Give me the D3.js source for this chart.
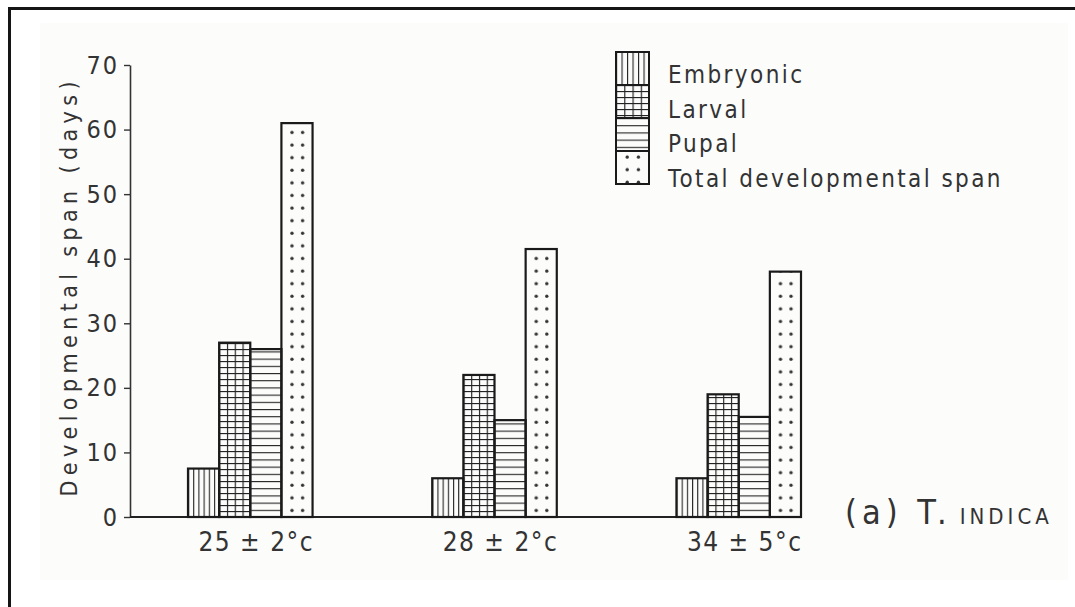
<!DOCTYPE html>
<html>
<head>
<meta charset="utf-8">
<script src="https://cdn.jsdelivr.net/npm/d3@7"></script>
<style>
  body { margin: 0; background: #fff; }
  text { font-family: "DejaVu Sans", sans-serif; font-stretch: condensed; fill: #333; }
</style>
</head>
<body>
<div id="chart"></div>
<script>
let width = 1075,
    height = 607;

// data
const temps = ["25 ± 2°c", "28 ± 2°c", "34 ± 5°c"];
const stages = ["Embryonic", "Larval", "Pupal", "Total developmental span"];
const embryonic = [7.5, 6, 6];
const larval = [27, 22, 19];
const pupal = [26, 15, 15.5];
const total = [61, 41.5, 38];
const yTicks = [0, 10, 20, 30, 40, 50, 60, 70];

const series = [embryonic, larval, pupal, total];
const kinds = ["vert", "grid", "horiz", "dots"];

const svg = d3.select("#chart")
  .append("svg")
  .attr("width", width)
  .attr("height", height);

const defs = svg.append("defs");

// scanned page look
svg.append("rect").attr("x", 40).attr("y", 23).attr("width", 1028).attr("height", 557).attr("fill", "#fcfcfb");
svg.append("path").attr("d", "M9.5,607V8.5H1075").attr("fill", "none").attr("stroke", "#151515").attr("stroke-width", 3);

let y = d3.scaleLinear()
  .domain([0, 70])
  .range([517, 65]);

let x0 = d3.scaleBand()
  .domain(temps)
  .range([188, 801])
  .paddingInner(0.49);

let x1 = d3.scaleBand()
  .domain(stages)
  .range([0, x0.bandwidth()]);

const bw = x1.bandwidth();

// one pattern per rect so the hatching starts at each bar's own edge
function makePattern(id, kind, px, py, w) {
  const p = defs.append("pattern")
    .attr("id", id)
    .attr("patternUnits", "userSpaceOnUse")
    .attr("x", px).attr("y", py);
  const ln = "#222";
  if (kind == "vert") {
    const tw = w / 6;
    p.attr("width", tw).attr("height", 10);
    p.append("line").attr("x1", 0.5).attr("x2", 0.5).attr("y1", 0).attr("y2", 10).attr("stroke", ln).attr("stroke-width", 1.2);
  } else if (kind == "grid") {
    const tw = w / 4;
    p.attr("width", tw).attr("height", 6);
    p.append("line").attr("x1", 0.5).attr("x2", 0.5).attr("y1", 0).attr("y2", 6).attr("stroke", ln).attr("stroke-width", 1.3);
    p.append("line").attr("x1", 0).attr("x2", tw).attr("y1", 0.5).attr("y2", 0.5).attr("stroke", ln).attr("stroke-width", 1.3);
  } else if (kind == "horiz") {
    p.attr("width", 10).attr("height", 7.2);
    p.append("line").attr("x1", 0).attr("x2", 10).attr("y1", 0.5).attr("y2", 0.5).attr("stroke", ln).attr("stroke-width", 1.2);
  } else {
    p.attr("width", w).attr("height", 12.6);
    p.append("circle").attr("cx", w * 0.34).attr("cy", 6).attr("r", 1.7).attr("fill", "#333");
    p.append("circle").attr("cx", w * 0.68).attr("cy", 6).attr("r", 1.7).attr("fill", "#333");
  }
}

// axes
const yAxis = svg.append("g")
  .attr("transform", "translate(130,0)")
  .call(d3.axisLeft(y).tickValues(yTicks).tickSize(6).tickSizeOuter(0).tickPadding(5));
yAxis.select(".domain").attr("stroke", "#333").attr("stroke-width", 1.6);
yAxis.selectAll(".tick line").attr("stroke", "#333").attr("stroke-width", 1.4);
yAxis.selectAll(".tick text")
  .style("font-size", "25px")
  .style("letter-spacing", "2px")
  .attr("fill", "#444");

svg.append("line")
  .attr("x1", 130).attr("x2", x0.range()[1])
  .attr("y1", y(0)).attr("y2", y(0))
  .attr("stroke", "#222").attr("stroke-width", 2);

svg.append("text")
  .attr("transform", `translate(77,${(y(0) + y(70)) / 2 - 2}) rotate(-90)`)
  .attr("text-anchor", "middle")
  .attr("textLength", 415)
  .attr("lengthAdjust", "spacing")
  .style("font-size", "23px")
  .attr("fill", "#555")
  .text("Developmental span (days)");

// bars
const bars = [];
temps.forEach((t, gi) => {
  stages.forEach((s, si) => {
    bars.push({ temp: t, stage: s, kind: kinds[si], value: series[si][gi], id: `bar-${si}-${gi}` });
  });
});

bars.forEach(d => {
  makePattern(d.id, d.kind, x0(d.temp) + x1(d.stage), y(0), bw);
});

svg.append("g")
  .selectAll("rect")
  .data(bars)
  .join("rect")
  .attr("x", d => x0(d.temp) + x1(d.stage))
  .attr("y", d => y(d.value))
  .attr("width", bw)
  .attr("height", d => y(0) - y(d.value))
  .attr("fill", d => `url(#${d.id})`)
  .attr("stroke", "#1a1a1a")
  .attr("stroke-width", 2.2);

// category labels
svg.append("g")
  .selectAll("text")
  .data(temps)
  .join("text")
  .attr("x", d => x0(d) + x0.bandwidth() / 2 + 6)
  .attr("y", 551)
  .attr("text-anchor", "middle")
  .style("font-size", "26px")
  .style("letter-spacing", "1.5px")
  .text(d => d);

// legend
const legY = d3.scaleBand().domain(stages).range([52, 184]);
const legX = 616, legW = 33;
stages.forEach((s, i) => {
  makePattern(`leg-${i}`, kinds[i], legX, legY(s), legW);
});
svg.append("g")
  .selectAll("rect")
  .data(stages)
  .join("rect")
  .attr("x", legX)
  .attr("y", d => legY(d))
  .attr("width", legW)
  .attr("height", legY.bandwidth())
  .attr("fill", (d, i) => `url(#leg-${i})`)
  .attr("stroke", "#1a1a1a")
  .attr("stroke-width", 2);

svg.append("g")
  .selectAll("text")
  .data(stages)
  .join("text")
  .attr("x", 668)
  .attr("y", (d, i) => 83 + i * 34.6)
  .style("font-size", "24px")
  .style("letter-spacing", "2.4px")
  .text(d => d);

// panel title
const ttl = svg.append("text")
  .attr("x", 845)
  .attr("y", 524)
  .style("font-size", "34px")
  .style("letter-spacing", "5px")
  .attr("fill", "#2a2a2a");
ttl.append("tspan").text("(a) T.");
ttl.append("tspan").style("font-size", "22px").style("letter-spacing", "4px").attr("dx", 8).text("INDICA");
</script>
</body>
</html>
